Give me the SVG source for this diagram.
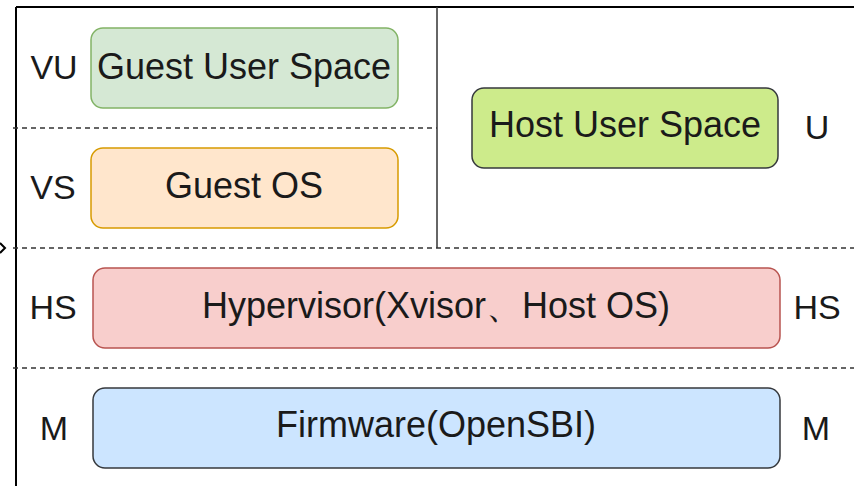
<svg xmlns="http://www.w3.org/2000/svg" width="854" height="486" viewBox="0 0 854 486">
  <style>
    .lbl { font-family: "Liberation Sans", Arial, Helvetica, sans-serif; font-size: 36px; fill: #1a1a1a; text-anchor: middle; }
    .side { font-family: "Liberation Sans", Arial, Helvetica, sans-serif; font-size: 34px; fill: #1a1a1a; text-anchor: middle; }
    .frame { stroke: #000; stroke-width: 2; fill: none; }
    .split { stroke: #333; stroke-width: 1.5; fill: none; }
    .dash { stroke: #333; stroke-width: 1.5; stroke-dasharray: 5 4; fill: none; }
  </style>
  <rect width="854" height="486" fill="#fff"/>

  <!-- frame and level separators -->
  <g id="connectors">
    <line class="frame" x1="16" y1="7" x2="854" y2="7"/>
    <line class="frame" x1="16" y1="7" x2="16" y2="486"/>
    <line class="split" x1="437" y1="7" x2="437" y2="248"/>
    <line class="dash" x1="13" y1="128" x2="437" y2="128"/>
    <line class="dash" x1="13" y1="248" x2="854" y2="248"/>
    <line class="dash" x1="13" y1="368" x2="854" y2="368"/>
    <polyline class="frame" points="0,243 5,248 0,253"/>
  </g>

  <g id="guest-user-space">
    <rect x="91" y="28" width="307" height="80" rx="12" fill="#d5e8d4" stroke="#82b366" stroke-width="1.5"/>
    <text class="lbl" x="244" y="79">Guest User Space</text>
  </g>

  <g id="guest-os">
    <rect x="91" y="148" width="307" height="80" rx="12" fill="#ffe6cc" stroke="#d79b00" stroke-width="1.5"/>
    <text class="lbl" x="244" y="198">Guest OS</text>
  </g>

  <g id="host-user-space">
    <rect x="472" y="88" width="306" height="80" rx="12" fill="#cdeb8b" stroke="#36393d" stroke-width="1.5"/>
    <text class="lbl" x="625" y="137">Host User Space</text>
  </g>

  <g id="hypervisor">
    <rect x="93" y="268" width="687" height="80" rx="12" fill="#f8cecc" stroke="#b85450" stroke-width="1.5"/>
    <text class="lbl" x="436" y="318">Hypervisor(Xvisor、Host OS)</text>
  </g>

  <g id="firmware">
    <rect x="93" y="388" width="687" height="80" rx="12" fill="#cce5ff" stroke="#36393d" stroke-width="1.5"/>
    <text class="lbl" x="436" y="437">Firmware(OpenSBI)</text>
  </g>

  <!-- privilege level labels -->
  <g id="levels">
    <text class="side" x="54" y="79">VU</text>
    <text class="side" x="53" y="199">VS</text>
    <text class="side" x="53" y="319">HS</text>
    <text class="side" x="54" y="440">M</text>
    <text class="side" x="817" y="139">U</text>
    <text class="side" x="817" y="319">HS</text>
    <text class="side" x="816" y="440">M</text>
  </g>
</svg>
